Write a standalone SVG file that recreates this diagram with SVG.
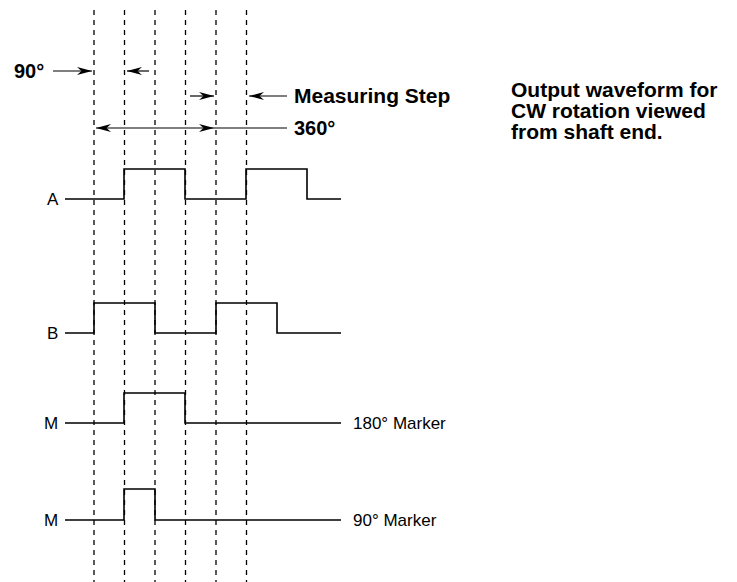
<svg xmlns="http://www.w3.org/2000/svg" width="737" height="582" viewBox="0 0 737 582">
<style>
.dash{stroke:#000;stroke-width:1.3;stroke-dasharray:5 5;fill:none}
.wave{stroke:#000;stroke-width:1.6;fill:none}
.ln{stroke:#000;stroke-width:1.2;fill:none}
.b{font-family:"Liberation Sans",Arial,sans-serif;font-weight:bold;fill:#000}
.r{font-family:"Liberation Sans",Arial,sans-serif;fill:#000;font-size:17px}
</style>
<defs>
<marker id="ah" markerWidth="16" markerHeight="10" refX="15" refY="5" orient="auto-start-reverse" markerUnits="userSpaceOnUse">
<path d="M0,1 L15,5 L0,9 L4.5,5 Z" fill="#000"/>
</marker>
</defs>
<rect width="737" height="582" fill="#fff"/>
<g id="gridlines">
<line class="dash" x1="94" y1="10" x2="94" y2="582"/>
<line class="dash" x1="124.5" y1="10" x2="124.5" y2="582"/>
<line class="dash" x1="155" y1="10" x2="155" y2="582"/>
<line class="dash" x1="185.5" y1="10" x2="185.5" y2="582"/>
<line class="dash" x1="216" y1="10" x2="216" y2="582"/>
<line class="dash" x1="246.5" y1="10" x2="246.5" y2="582"/>
</g>
<g id="connectors">
<line class="ln" x1="53" y1="71" x2="92" y2="71" marker-end="url(#ah)"/>
<line class="ln" x1="149" y1="71" x2="127" y2="71" marker-end="url(#ah)"/>
<line class="ln" x1="190" y1="96" x2="214" y2="96" marker-end="url(#ah)"/>
<line class="ln" x1="287" y1="96" x2="249" y2="96" marker-end="url(#ah)"/>
<line class="ln" x1="96" y1="128" x2="214" y2="128" marker-start="url(#ah)" marker-end="url(#ah)"/>
<line class="ln" x1="214" y1="128" x2="287" y2="128"/>
</g>
<g id="label-90">
<text class="b" x="14" y="78" font-size="20">90°</text>
</g>
<g id="label-step">
<text class="b" x="294" y="103" font-size="21">Measuring Step</text>
</g>
<g id="label-360">
<text class="b" x="294" y="135" font-size="20">360°</text>
</g>
<g id="caption">
<text class="b" x="511" y="97" font-size="21">Output waveform for</text>
<text class="b" x="511" y="118" font-size="21">CW rotation viewed</text>
<text class="b" x="511" y="139" font-size="21">from shaft end.</text>
</g>
<g id="wave-A">
<text class="r" x="47" y="205">A</text>
<path class="wave" d="M65,199 H124 V169 H185 V199 H246 V169 H307 V199 H341"/>
</g>
<g id="wave-B">
<text class="r" x="47" y="339">B</text>
<path class="wave" d="M65,333 H94 V303 H155 V333 H216 V303 H277 V333 H341"/>
</g>
<g id="wave-M180">
<text class="r" x="44" y="429">M</text>
<path class="wave" d="M65,423 H124 V393 H185 V423 H341"/>
<text class="r" x="353" y="429">180° Marker</text>
</g>
<g id="wave-M90">
<text class="r" x="44" y="526">M</text>
<path class="wave" d="M65,520 H124 V489 H155 V520 H341"/>
<text class="r" x="353" y="526">90° Marker</text>
</g>
</svg>
